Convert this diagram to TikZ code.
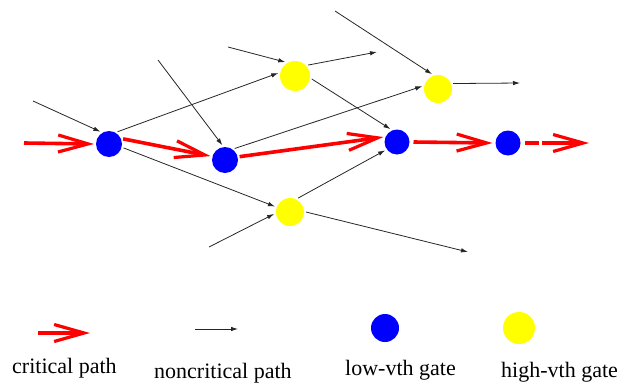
\documentclass[tikz,border=0pt]{standalone}
\usepackage{fontspec}
\setmainfont{Liberation Serif}
\usetikzlibrary{arrows.meta}

\definecolor{critred}{RGB}{255,0,0}
\definecolor{lowvth}{RGB}{0,0,255}
\definecolor{highvth}{RGB}{255,255,0}

\tikzset{
  lowgate/.style={circle, fill=lowvth, draw=none, inner sep=0pt, outer sep=2pt, minimum size=#1},
  highgate/.style={circle, fill=highvth, draw=none, inner sep=0pt, outer sep=2pt, minimum size=#1},
  critarrow/.style={draw=critred, line width=3.6pt,
    -{Straight Barb[length=30pt, width=17pt, line width=3.2pt]}},
  wire/.style={draw=black!85, line width=0.8pt, -{Latex[length=7pt, width=4.5pt]}},
  legendtext/.style={anchor=base west, inner sep=0pt, font=\fontsize{22}{26}\selectfont}
}

\begin{document}
\begin{tikzpicture}[x=1pt, y=-1pt]
  \useasboundingbox (0,0) rectangle (626,383);

  % gates
  \node[lowgate=26pt]  (b1) at (109,144) {};
  \node[lowgate=26pt]  (b2) at (225,160) {};
  \node[lowgate=25pt]  (b3) at (397,142) {};
  \node[lowgate=25pt]  (b4) at (508,143) {};
  \node[highgate=30pt] (y1) at (295,76)  {};
  \node[highgate=28pt] (y2) at (290,212) {};
  \node[highgate=28pt] (y3) at (438,89)  {};

  % free ends of the noncritical wires
  \coordinate (i1) at (33,101);
  \coordinate (i2) at (158,60);
  \coordinate (i3) at (228,47);
  \coordinate (i4) at (209,247);
  \coordinate (i5) at (335,11);
  \coordinate (o1) at (377,52);
  \coordinate (o2) at (520,83);
  \coordinate (o3) at (468,252);

  % critical path
  \coordinate (cin)  at (24,143);
  \coordinate (cout) at (589,143);
  \path[critarrow] (cin) -- (b1.west);
  \path[critarrow] (b1.20) -- (b2.165);
  \path[critarrow] (b2.13) -- (b3.160);
  \path[critarrow] ([xshift=2pt]b3.east) -- ([xshift=-1pt]b4.west);
  \path[critarrow, dash pattern=on 14pt off 3pt on 300pt off 0pt]
    ([xshift=2pt]b4.east) -- (cout);

  % noncritical paths
  \path[wire] (i1) -- (b1.125);
  \path[wire] (i2) -- (b2.100);
  \path[wire] (i3) -- (y1.125);
  \path[wire] (b1.55) -- (y1.170);
  \path[wire] (b1.-15) -- (y2.160);
  \path[wire] (i4) -- (y2.187);
  \path[wire] (y1.40) -- (o1);
  \path[wire] (y1.-10) -- (b3.117);
  \path[wire] (b2.50) -- (y3.170);
  \path[wire] (i5) -- (y3.112);
  \path[wire] (y3.20) -- (o2);
  \path[wire] (y2.60) -- (b3.215);
  \path[wire] (y2.0) -- (o3);

  % legend
  \coordinate (lra) at (38,333);
  \coordinate (lrb) at (90,333);
  \path[critarrow] (lra) -- (lrb);
  \coordinate (lba) at (195,329);
  \coordinate (lbb) at (238,329);
  \path[wire] (lba) -- (lbb);
  \node[lowgate=28pt]  (lblue)   at (385,328) {};
  \node[highgate=32pt] (lyellow) at (519,328) {};

  \node[legendtext] (tcrit) at (12,373)  {critical path};
  \node[legendtext] (tnon)  at (154,378) {noncritical path};
  \node[legendtext] (tlow)  at (345,375) {low-vth gate};
  \node[legendtext] (thigh) at (501,377) {high-vth gate};
\end{tikzpicture}
\end{document}
